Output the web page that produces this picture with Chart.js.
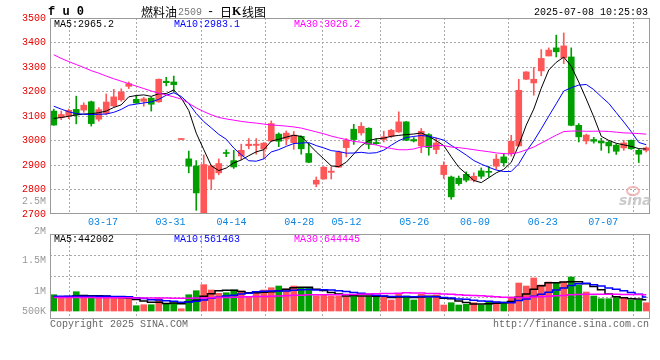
<!DOCTYPE html>
<html><head><meta charset="utf-8">
<script src="https://cdn.jsdelivr.net/npm/chart.js@4.4.1/dist/chart.umd.min.js"></script>
<style>
html,body{margin:0;padding:0;background:#fff;}
#wrap{position:relative;width:660px;height:360px;overflow:hidden;background:#fff;}
canvas{position:absolute;left:0;top:0;}
</style></head><body>
<div id="wrap"><canvas id="price" width="660" height="360"></canvas><canvas id="vol" width="660" height="360"></canvas></div>
<script>
// ---------- data ----------
const dates = ['03-12','03-13','03-14','03-17','03-18','03-19','03-20','03-21','03-24','03-25','03-26','03-27','03-28','03-31',
 '04-01','04-02','04-03','04-07','04-08','04-09','04-10','04-11','04-14','04-15','04-16','04-17','04-18','04-21','04-22','04-23','04-24','04-25','04-28','04-29','04-30',
 '05-06','05-07','05-08','05-09','05-12','05-13','05-14','05-15','05-16','05-19','05-20','05-21','05-22','05-23','05-26','05-27','05-28','05-29','05-30',
 '06-03','06-04','06-05','06-06','06-09','06-10','06-11','06-12','06-13','06-16','06-17','06-18','06-19','06-20','06-23','06-24','06-25','06-26','06-27','06-30',
 '07-01','07-02','07-03','07-04','07-07','07-08'];
const xTickLabels = ['03-17','03-31','04-14','04-28','05-12','05-26','06-09','06-23','07-07'];
const priceTicks = [2700, 3500, 100];

const opens = [3120,3093,3102,3127,3124,3158,3087,3111,3141,3166,
 3221,3168,3160,3173,3158,3242,3239,3004,2925,2896,
 2702,2842,2868,2951,2918,2937,2979,2980,2965,2998,
 3026,3006,2991,3017,2947,2822,2843,2870,2891,2971,
 3046,3031,3050,2992,3004,3017,3035,3076,3004,2978,
 3024,2963,2861,2851,2846,2862,2838,2876,2874,2895,
 2933,2947,2978,3250,3235,3284,3345,3378,3337,3341,
 3062,2998,3004,2997,2993,2981,2970,3001,2960,2960];
const highs = [3128,3120,3128,3181,3154,3161,3134,3190,3209,3211,
 3239,3183,3176,3177,3251,3258,3263,3004,2957,2918,
 2941,2900,2925,2962,2960,2985,3008,3008,2992,3080,
 3031,3039,3037,3019,2988,2851,2893,2892,2957,3008,
 3066,3073,3052,3008,3038,3046,3117,3078,3012,3049,
 3028,3010,2913,2855,2855,2872,2868,2888,2895,2943,
 2947,3021,3250,3281,3298,3371,3378,3430,3439,3378,
 3069,3026,3013,3009,2998,2986,3001,3002,2966,2974];
const lows = [3062,3085,3089,3068,3115,3059,3079,3105,3137,3160,
 3212,3152,3140,3120,3156,3223,3198,3004,2868,2715,
 2695,2801,2860,2934,2886,2922,2966,2944,2926,2995,
 2975,2982,2964,2944,2909,2811,2842,2843,2890,2933,
 2984,3022,2966,2984,2994,3012,3033,2999,2994,2950,
 2940,2946,2845,2760,2817,2831,2831,2845,2851,2882,
 2895,2936,2976,3248,3185,3264,3345,3341,3314,3060,
 2994,2986,2989,2960,2949,2943,2960,2964,2910,2953];
const closes = [3063,3106,3123,3105,3144,3069,3126,3157,3178,3198,
 3232,3153,3170,3148,3250,3236,3228,3004,2895,2786,
 2902,2897,2906,2947,2892,2960,2985,2985,2989,3069,
 2997,3030,3022,2966,2911,2838,2891,2875,2952,3001,
 3004,3058,2984,2987,3015,3042,3076,3001,2998,3038,
 2971,2990,2899,2770,2824,2838,2854,2854,2870,2924,
 2909,2997,3205,3280,3250,3335,3369,3362,3386,3062,
 3015,3022,2997,2990,2978,2956,2990,2966,2944,2970];

const ma5 = [3090,3094,3099,3104,3108.2,3109.4,3113.4,3120.2,3134.8,3145.6,
 3178.2,3183.6,3186.2,3180.2,3190.6,3191.4,3206.4,3173.2,3122.6,3029.8,
 2963,2896.8,2877.2,2887.6,2908.8,2920.4,2938,2953.8,2962.2,2997.6,
 3005,3014,3021.4,3016.8,2985.2,2953.4,2925.6,2896.2,2893.4,2911.4,
 2944.6,2978,2999.8,3006.8,3009.6,3017.2,3020.8,3024.2,3026.4,3031,
 3016.8,2999.6,2979.2,2933.6,2890.8,2864.2,2837,2828,2848,2868,
 2882.2,2910.8,2981,3063,3128.2,3213.4,3287.8,3319.2,3340.4,3302.8,
 3238.8,3169.4,3096.4,3017.2,3000.4,2988.6,2982.2,2976,2966.8,2965.2];
const ma10 = [3140,3128,3117,3110,3107,3106,3107,3108,3115,3126.9,
 3143.8,3148.5,3153.2,3157.5,3168.1,3184.8,3195,3179.7,3151.4,3110.2,
 3077.2,3051.6,3025.2,3005.1,2969.3,2941.7,2917.4,2915.5,2924.9,2953.2,
 2962.7,2976,2987.6,2989.5,2991.4,2979.2,2969.8,2958.8,2955.1,2948.3,
 2949,2951.8,2948,2950.1,2960.5,2980.9,2999.4,3012,3016.6,3020.3,
 3017,3010.2,3001.7,2980,2960.9,2940.5,2918.3,2903.6,2890.8,2879.4,
 2873.2,2873.9,2904.5,2955.5,2998.1,3047.8,3099.3,3150.1,3201.7,3215.5,
 3226.1,3228.6,3207.8,3178.8,3151.6,3113.7,3075.8,3036.2,2992,2982.8];
const ma30 = [3350,3335,3322,3310,3298,3285,3275,3263,3252,3242,
 3232,3222,3212,3202,3193,3186,3178,3169,3152,3133,
 3118,3105,3094,3088,3083,3078,3074,3071,3067,3063.4,
 3061.2,3058.7,3055.3,3050.7,3042.9,3035.2,3027.4,3018,3010.5,3003.9,
 2996.3,2993.1,2986.9,2981.6,2973.7,2967.3,2962.2,2962.1,2965.5,2973.9,
 2976.2,2979.3,2979.1,2973.2,2970.9,2966.9,2962.5,2958.1,2954.2,2949.3,
 2946.4,2945.3,2951.4,2961.9,2973.2,2989.7,3005.7,3021.9,3036.4,3038.4,
 3038.8,3037.6,3038,3038.1,3036.9,3034,3031.1,3030,3028.2,3025.9];

// volume in thousands
const vols = [647,544,544,766,583,607,516,516,516,544,
 488,210,250,250,516,278,317,91,647,806,
 1044,833,702,726,833,794,567,702,833,925,
 992,873,992,925,925,607,635,595,595,567,
 663,567,567,567,567,437,663,595,437,663,
 567,635,238,329,238,266,329,238,357,357,
 357,556,1111,992,1310,1032,1151,1099,1151,1349,
 1032,754,595,488,488,528,516,437,437,329];
const vma5 = [560,570,580,600,616.8,608.8,603.2,597.6,547.6,539.8,
 516,454.8,401.6,348.4,342.8,300.8,322.2,290.4,369.8,427.8,
 581,684.2,806.4,822.2,827.6,777.6,724.4,724.4,745.8,764.2,
 803.8,865,923,941.4,941.4,864.4,816.8,737.4,671.4,599.8,
 611,597.4,591.8,586.2,586.2,541,560.2,565.8,539.8,559,
 585,579.4,508,486.4,401.4,341.2,280,280,285.6,309.4,
 327.6,373,547.6,674.6,865.2,1000.2,1119.2,1116.8,1148.6,1156.4,
 1156.4,1077,976.2,843.6,671.4,570.6,523,491.4,481.2,449.4];
const vma10 = [590,590,590,590,590,590,590,585,580,578.3,
 562.4,529,499.6,448,441.3,408.4,388.5,346,359.1,385.3,
 440.9,503.2,548.4,596,627.7,679.3,704.3,765.4,784,795.9,
 790.7,794.7,823.7,843.6,852.8,834.1,840.9,830.2,806.4,770.6,
 737.7,707.1,664.6,628.8,593,576,578.8,578.8,563,572.6,
 563,569.8,536.9,513.1,480.2,463.1,429.7,394,386,355.4,
 334.4,326.5,413.8,480.1,587.3,663.9,746.1,832.2,911.6,1010.8,
 1078.3,1098.1,1046.5,996.1,913.9,863.5,800,733.8,662.4,560.4];
const vma30 = [540,540,538,536,534,532,530,528,526,524,
 522,520,518,516,514,512,510,508,510,514,
 520,526,532,540,548,556,564,572,580,586.5,
 598,609,623.9,629.2,640.6,640.6,644.6,647.2,649.8,650.6,
 656.4,668.3,678.9,689.5,691.2,696.5,708,724.8,717.8,713,
 697.1,690.5,675.1,661.8,642,624.4,616.5,601,585.1,566.2,
 545,534.5,538.4,540.7,553.5,567.7,584.9,601.7,620.2,646.3,
 658.6,664.8,665.7,663.1,660.5,663.5,658.6,653.3,653.3,642.2];

const priceLegend = ['MA5:2965.2','MA10:2983.1','MA30:3026.2'];
const volLegend = ['MA5:442002','MA10:561463','MA30:644445'];
const volAxisLabels = ['2.5M','2M','1.5M','1M','500K'];
const titleParts = ['燃料油','2509','-','日','K','线图'];
const symbolText = 'f u 0';
const stampText = '2025-07-08 10:25:03';
const copyText = 'Copyright 2025 SINA.COM';
const urlText = 'http://finance.sina.com.cn';

// ---------- styles ----------
const RED = '#ff5757', GREEN = '#009f00';
const MA_COLORS = ['#000000', '#0000ff', '#ff00ff'];
const GRID = '#aaaaaa', FRAME = '#9a9a9a';
const MONO = '"Liberation Mono", "DejaVu Sans Mono", monospace';
const CJK = '"Noto Sans CJK SC", sans-serif';
const NONE = 'rgba(0,0,0,0)';
const candleColors = closes.map((c, i) => c >= opens[i] ? RED : GREEN);
const tickIdx = xTickLabels.map(d => dates.indexOf(d));

function xLabelAxis(showLabels) {
  return {
    type: 'linear', position: 'bottom', min: 0.1, max: 78.94,
    afterBuildTicks: s => {
      s.ticks = tickIdx.map((v, k) => ({ value: k === tickIdx.length - 1 ? Math.min(v, s.max - 2) : v }));
    },
    afterFit: s => { s.height = showLabels ? 18 : 0; },
    grid: { color: c => c.index === tickIdx.length - 1 ? NONE : GRID, lineWidth: 1, drawTicks: false },
    border: { display: false, dash: [2, 2] },
    ticks: { display: showLabels, autoSkip: false, maxRotation: 0, padding: 2, color: '#0a84e0',
      font: { family: MONO, size: 10 }, callback: (v, i) => xTickLabels[i] }
  };
}

function frame(ctx, a) {
  ctx.strokeStyle = FRAME; ctx.lineWidth = 1;
  ctx.strokeRect(Math.round(a.left) + 0.5, Math.round(a.top) + 0.5,
    Math.round(a.right - a.left) - 1, Math.round(a.bottom - a.top) - 1);
}

const priceText = {
  id: 'priceText',
  afterDraw(chart) {
    const ctx = chart.ctx, a = chart.chartArea;
    ctx.save();
    frame(ctx, a);
    ctx.textBaseline = 'middle';
    ctx.fillStyle = '#000';
    ctx.font = 'bold 12px ' + MONO;
    ctx.fillText(symbolText, 48, 12);
    const px = [141, 178, 207, 220, 232, 242];
    titleParts.forEach((t, k) => {
      if (k === 1) { ctx.font = '10px ' + MONO; ctx.fillStyle = '#777'; }
      else if (k === 4) { ctx.font = 'bold 12px "Liberation Serif", serif'; ctx.fillStyle = '#000'; }
      else if (k === 2) { ctx.font = '12px ' + MONO; ctx.fillStyle = '#000'; }
      else { ctx.font = '12px ' + CJK; ctx.fillStyle = '#000'; }
      ctx.fillText(t, px[k], 12);
    });
    ctx.font = '10px ' + MONO; ctx.fillStyle = '#000'; ctx.textAlign = 'right';
    ctx.fillText(stampText, 648, 12);
    ctx.textAlign = 'left';
    priceLegend.forEach((t, k) => { ctx.fillStyle = MA_COLORS[k]; ctx.fillText(t, a.left + 4 + 120 * k, a.top + 6); });
    ctx.restore();
  }
};

const volText = {
  id: 'volText',
  afterDraw(chart) {
    const ctx = chart.ctx, a = chart.chartArea;
    ctx.save();
    frame(ctx, a);
    ctx.textBaseline = 'middle';
    ctx.font = '10px ' + MONO;
    ctx.textAlign = 'right'; ctx.fillStyle = '#999';
    const ly = [a.top - 33, a.top - 3, a.top + 26, a.top + 57, a.bottom - 8];
    volAxisLabels.forEach((t, k) => ctx.fillText(t, a.left - 4, ly[k]));
    ctx.textAlign = 'left';
    volLegend.forEach((t, k) => { ctx.fillStyle = MA_COLORS[k]; ctx.fillText(t, a.left + 4 + 120 * k, a.top + 5); });
    ctx.fillStyle = '#666';
    ctx.fillText(copyText, a.left, a.bottom + 5);
    ctx.textAlign = 'right';
    ctx.fillText(urlText, a.right - 1, a.bottom + 5);
    // watermark
    ctx.textAlign = 'left';
    ctx.font = 'italic bold 14px "DejaVu Sans", sans-serif';
    ctx.fillStyle = 'rgba(190,190,190,0.8)';
    ctx.fillText('sina', 619, 201);
    ctx.strokeStyle = 'rgba(240,170,170,0.8)'; ctx.lineWidth = 2;
    ctx.beginPath(); ctx.ellipse(633, 191, 6, 4, 0, 0, Math.PI * 2); ctx.stroke();
    ctx.restore();
  }
};

const common = {
  responsive: false, animation: false, devicePixelRatio: 1, events: [],
  plugins: { legend: { display: false }, tooltip: { enabled: false } }
};

function maLine(data, k, axis, stepped, w) {
  return { type: 'line', data, borderColor: MA_COLORS[k], borderWidth: w, pointRadius: 0,
    tension: 0, stepped, yAxisID: axis, xAxisID: 'x', order: 1, clip: 0 };
}

new Chart(document.getElementById('price'), {
  type: 'bar',
  data: {
    labels: dates,
    datasets: [
      { data: lows.map((l, i) => [l, highs[i]]), backgroundColor: candleColors, barThickness: 1,
        grouped: false, minBarLength: 1, yAxisID: 'y', xAxisID: 'x', order: 3 },
      { data: opens.map((o, i) => [o, closes[i]]), backgroundColor: candleColors, barThickness: 6,
        grouped: false, minBarLength: 1, yAxisID: 'y', xAxisID: 'x', order: 2 },
      maLine(ma30, 2, 'y', false, 1),
      maLine(ma10, 1, 'y', false, 1),
      maLine(ma5, 0, 'y', false, 1)
    ]
  },
  options: Object.assign({}, common, {
    layout: { padding: { top: 18, right: 10, left: 0, bottom: 128 } },
    scales: {
      x: { type: 'category', offset: true, display: false },
      xl: xLabelAxis(true),
      y: { type: 'linear', position: 'left', min: priceTicks[0], max: priceTicks[1],
        afterFit: s => { s.width = 50; },
        ticks: { stepSize: priceTicks[2], color: '#e60000', font: { family: MONO, size: 10 }, padding: 4,
          callback: v => String(v) },
        grid: { color: c => (c.tick && (c.tick.value === priceTicks[0] || c.tick.value === priceTicks[1])) ? NONE : GRID, drawTicks: false },
        border: { display: false, dash: [2, 2] } }
    }
  }),
  plugins: [priceText]
});

new Chart(document.getElementById('vol'), {
  type: 'bar',
  data: {
    labels: dates,
    datasets: [
      { data: vols, backgroundColor: candleColors, barThickness: 6, grouped: false, yAxisID: 'yv', xAxisID: 'x', order: 2 },
      maLine(vma30, 2, 'yv', 'middle', 1.5),
      maLine(vma10, 1, 'yv', 'middle', 1.5),
      maLine(vma5, 0, 'yv', 'middle', 1.5)
    ]
  },
  options: Object.assign({}, common, {
    layout: { padding: { top: 234, right: 10, left: 50, bottom: 41 } },
    scales: {
      x: { type: 'category', offset: true, display: false },
      xl: xLabelAxis(false),
      yv: { type: 'linear', display: false, min: -317, max: 3056 },
      yg: { type: 'linear', position: 'left', min: 0, max: 4, afterFit: s => { s.width = 0; },
        ticks: { display: false, stepSize: 1 },
        grid: { color: c => (c.tick && (c.tick.value === 0 || c.tick.value === 4)) ? NONE : GRID, drawTicks: false },
        border: { display: false, dash: [2, 2] } }
    }
  }),
  plugins: [volText]
});
</script></body></html>
